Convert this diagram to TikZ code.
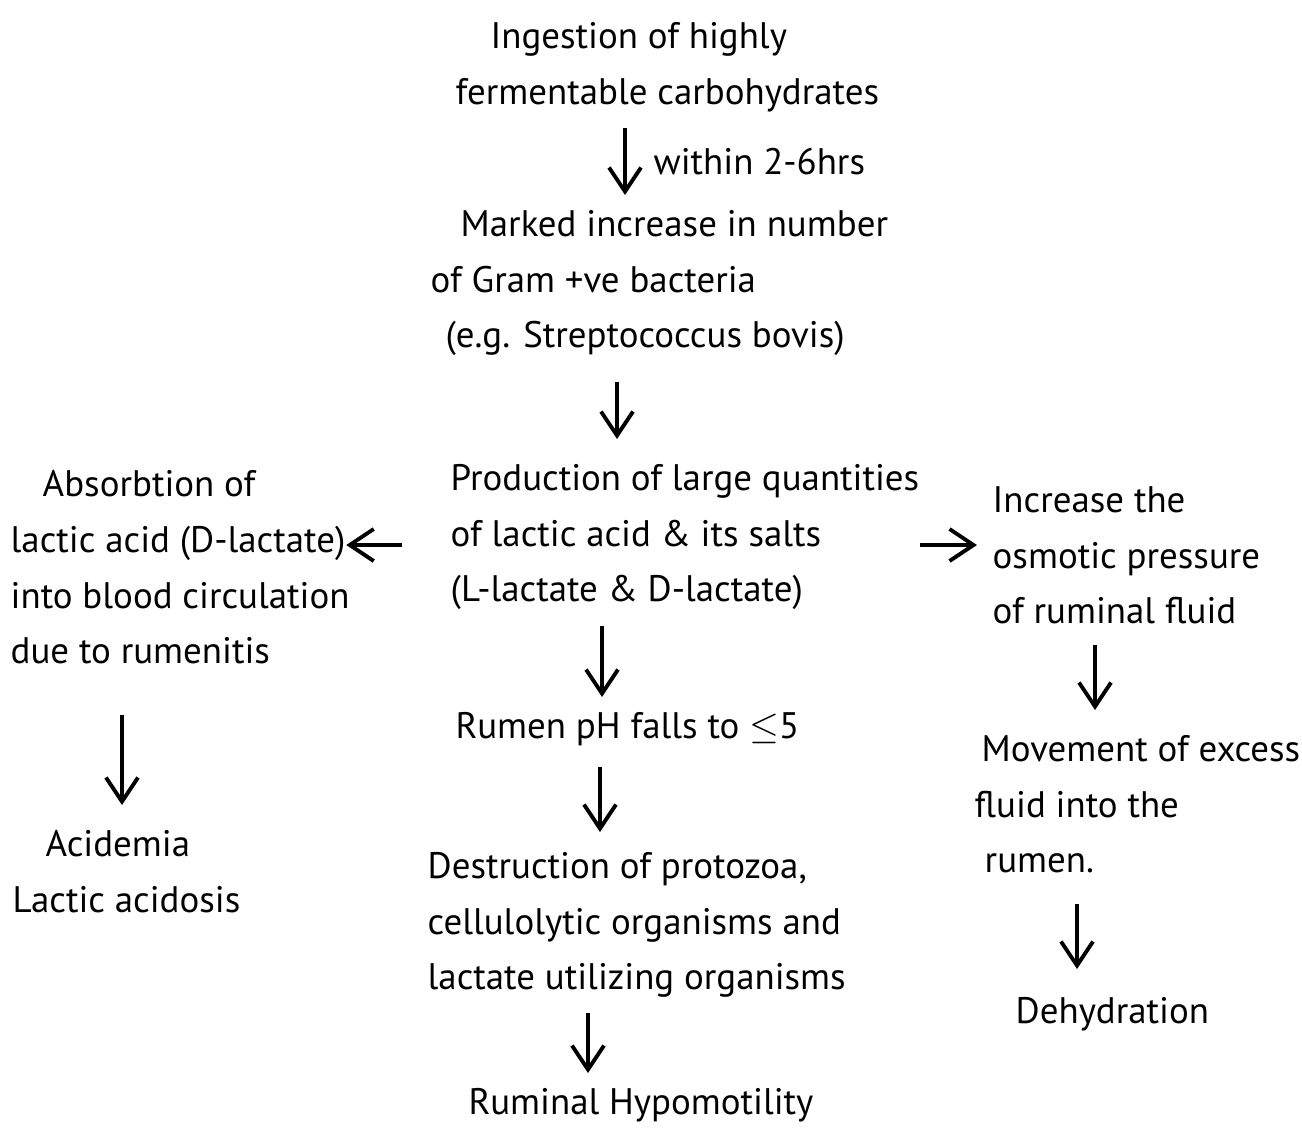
\documentclass[tikz,border=0pt]{standalone}
\usepackage{fontspec}
\setmainfont{PT Sans}
\usetikzlibrary{arrows.meta, positioning}
\tikzset{
  flowtext/.style={inner sep=0pt, anchor=north west, align=left, font=\fontsize{10.5}{15.8}\selectfont},
  flowarrow/.style={line width=1.1pt, -{Straight Barb[length=2.4mm,width=3.2mm]}, shorten <=1.5mm, shorten >=1.5mm}
}
\begin{document}
\begin{tikzpicture}
  \useasboundingbox (0,0) rectangle (13.02,-11.37);

  % Middle column
  \node[flowtext] (ingest) at (4.55,-0.22) {\hspace*{3.5mm}Ingestion of highly\\fermentable carbohydrates};
  \node[flowtext] (gram) at (4.30,-2.1) {\hspace*{3mm}Marked increase in number\\of Gram +ve bacteria\\\hspace*{1.5mm}(e.g. Streptococcus bovis)};
  \node[flowtext] (lactic) at (4.50,-4.64) {Production of large quantities\\of lactic acid \& its salts\\(L-lactate \& D-lactate)};
  \node[flowtext] (ph) at (4.55,-7.12) {Rumen pH falls to $\leq$5};
  \node[flowtext] (destr) at (4.27,-8.52) {Destruction of protozoa,\\cellulolytic organisms and\\lactate utilizing organisms};
  \node[flowtext] (hypo) at (4.68,-10.88) {Ruminal Hypomotility};

  % Left column
  \node[flowtext] (absorb) at (0.10,-4.7) {\hspace*{3.2mm}Absorbtion of\\lactic acid (D-lactate)\\into blood circulation\\due to rumenitis};
  \node[flowtext] (acid) at (0.12,-8.3) {\hspace*{3.3mm}Acidemia\\Lactic acidosis};

  % Right column
  \node[flowtext] (osm) at (9.92,-4.86) {Increase the\\osmotic pressure\\of ruminal fluid};
  \node[flowtext] (move) at (9.74,-7.35) {\hspace*{0.7mm}Movement of excess\\fluid into the\\\hspace*{1mm}rumen.};
  \node[flowtext] (dehyd) at (10.15,-9.97) {Dehydration};

  % Arrows
  \draw[flowarrow] (6.25,0 |- ingest.south) -- node[right=1.5mm, font=\fontsize{10.5}{12}\selectfont] {within 2-6hrs} (6.25,0 |- gram.north);
  \draw[flowarrow, shorten <=2.5mm, shorten >=2.5mm] (6.17,0 |- gram.south) -- (6.17,0 |- lactic.north);
  \draw[flowarrow] (6.02,0 |- lactic.south) -- (6.02,0 |- ph.north);
  \draw[flowarrow, shorten <=2mm, shorten >=2mm] (6.00,0 |- ph.south) -- (6.00,0 |- destr.north);
  \draw[flowarrow] (5.88,0 |- destr.south) -- (5.88,0 |- hypo.north);
  \draw[flowarrow, shorten <=4.8mm, shorten >=-0.4mm] (lactic.west |- 0,-5.45) -- (absorb.east |- 0,-5.45);
  \draw[flowarrow, shorten <=0mm, shorten >=1.5mm] (lactic.east |- 0,-5.45) -- (osm.west |- 0,-5.45);
  \draw[flowarrow, shorten <=5mm, shorten >=2.5mm] (1.22,0 |- absorb.south) -- (1.22,0 |- acid.north);
  \draw[flowarrow, shorten <=2mm, shorten >=2.5mm] (10.95,0 |- osm.south) -- (10.95,0 |- move.north);
  \draw[flowarrow, shorten <=3mm, shorten >=2.8mm] (10.77,0 |- move.south) -- (10.77,0 |- dehyd.north);
\end{tikzpicture}
\end{document}
